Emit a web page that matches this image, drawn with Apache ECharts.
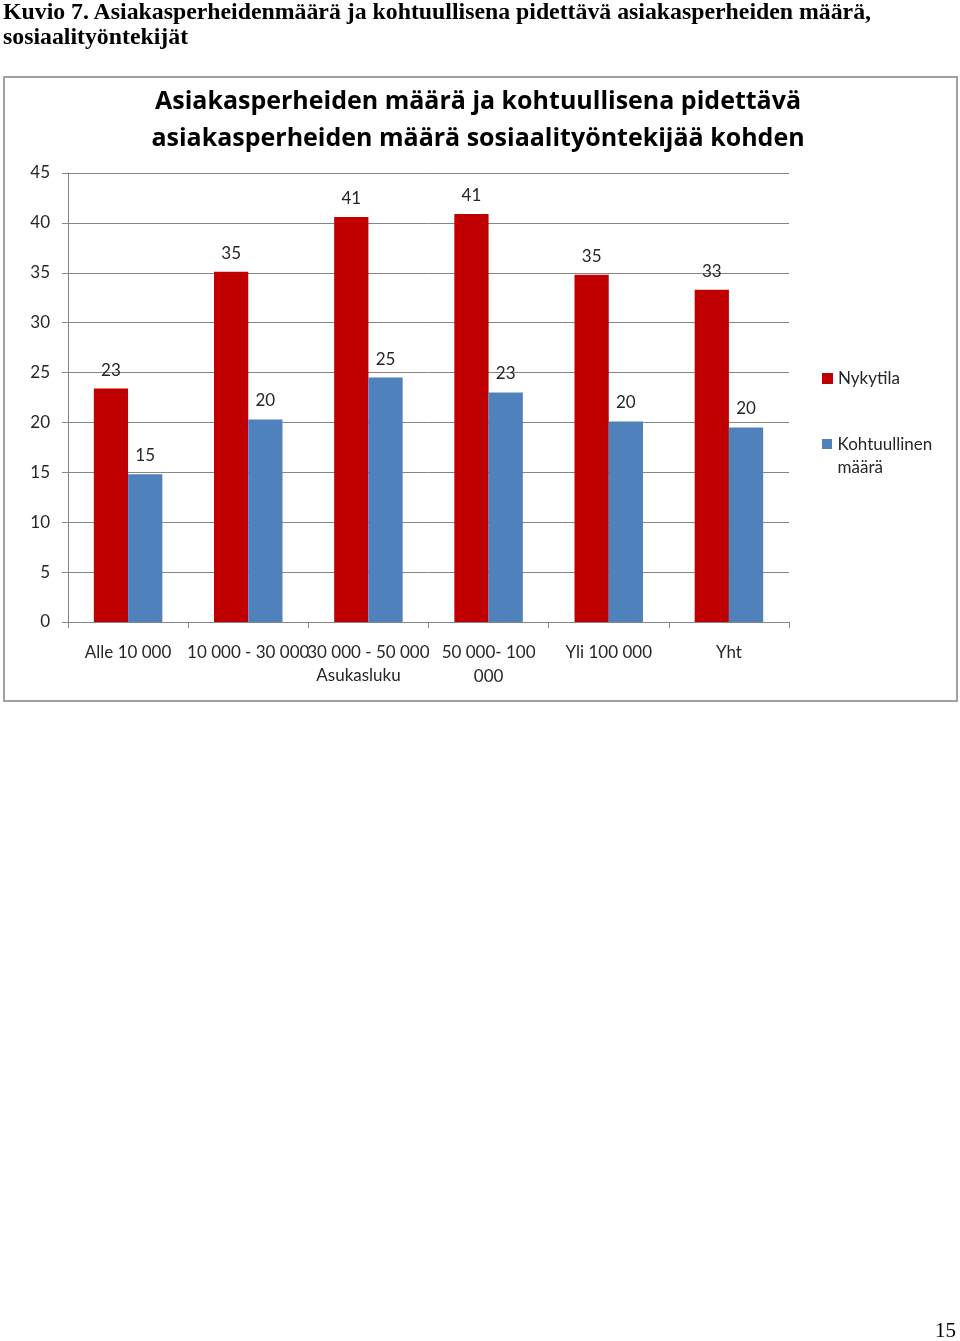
<!DOCTYPE html>
<html><head><meta charset="utf-8">
<script src="https://cdn.jsdelivr.net/npm/echarts@6/dist/echarts.min.js"></script>
<style>
html,body{margin:0;padding:0;background:#fff;}
#page{position:relative;width:960px;height:1341px;overflow:hidden;}
#chart{position:absolute;left:0;top:0;width:960px;height:1341px;}
#head{position:absolute;left:3px;top:-1px;font-family:"Liberation Serif",serif;font-weight:bold;font-size:23.8px;line-height:25px;color:#000;white-space:nowrap;}
#pnum{position:absolute;left:935px;top:1318px;font-family:"Liberation Serif",serif;font-size:21px;color:#000;}
</style></head>
<body><div id="page">
<div id="chart"></div>
<div id="head">Kuvio 7. Asiakasperheidenmäärä ja kohtuullisena pidettävä asiakasperheiden määrä,<br>sosiaalityöntekijät</div>
<div id="pnum">15</div>
</div>
<script>
const chartTitle = "Asiakasperheiden määrä ja kohtuullisena pidettävä\nasiakasperheiden määrä sosiaalityöntekijää kohden";
const categories = ["Alle 10 000", "10 000 - 30 000", "30 000 - 50 000", "50 000- 100\n000", "Yli 100 000", "Yht"];
const axisTitle = "Asukasluku";
const seriesNames = ["Nykytila", "Kohtuullinen määrä"];
const nykytila = [23.4, 35.1, 40.6, 40.9, 34.8, 33.3];
const kohtuullinen = [14.8, 20.3, 24.5, 23.0, 20.1, 19.5];
const yTicks = {min: 0, max: 45, interval: 5};

const font = "Lato, 'Open Sans', sans-serif";
const fs = 17;
const txt = '#262626';
const chart = echarts.init(document.getElementById('chart'), null, {renderer: 'canvas'});
const lbl = {show: true, position: 'top', distance: 10, color: txt, fontSize: fs, fontFamily: font,
  formatter: p => Math.round(p.value)};
chart.setOption({
  animation: false,
  title: {text: chartTitle, left: 478, textAlign: 'center', top: 83, padding: 0,
    textStyle: {fontFamily: "'Open Sans', sans-serif", fontWeight: 'bold', fontSize: 25, lineHeight: 37, color: '#000'}},
  graphic: [{type: 'rect', shape: {x: 4, y: 77, width: 953, height: 624},
    style: {fill: null, stroke: '#a0a0a0', lineWidth: 2}, silent: true}],
  legend: [
    {data: [seriesNames[0]], orient: 'vertical', left: 822, top: 370, padding: 0, itemWidth: 11, itemHeight: 11,
      icon: 'rect', textStyle: {fontFamily: font, fontSize: fs, color: txt}},
    {data: [seriesNames[1]], orient: 'vertical', left: 822, top: 433, padding: 0, itemWidth: 11, itemHeight: 34,
      icon: 'path://M0,0h10v10h-10zM0,33.9h0.01v0.01h-0.01z',
      formatter: () => 'Kohtuullinen\nmäärä',
      textStyle: {fontFamily: font, fontSize: fs, lineHeight: 23, color: txt}}
  ],
  grid: {left: 68, right: 171, top: 173, bottom: 719, containLabel: false},
  xAxis: {type: 'category', data: categories,
    name: axisTitle, nameLocation: 'middle', nameGap: 45, nameMoveOverlap: false,
    nameTextStyle: {fontFamily: font, fontSize: fs, color: txt, padding: [0, 140, 0, 0]},
    axisLine: {lineStyle: {color: '#868686'}},
    axisTick: {show: true, alignWithLabel: false, length: 6, lineStyle: {color: '#868686'}},
    axisLabel: {interval: 0, margin: 19, fontFamily: font, fontSize: fs, color: txt, lineHeight: 24}},
  yAxis: {type: 'value', min: yTicks.min, max: yTicks.max, interval: yTicks.interval,
    axisLine: {show: true, lineStyle: {color: '#868686'}},
    axisTick: {show: true, length: 6, lineStyle: {color: '#868686'}},
    splitLine: {lineStyle: {color: '#868686'}},
    axisLabel: {margin: 18, fontFamily: font, fontSize: fs, color: txt}},
  series: [
    {name: seriesNames[0], type: 'bar', data: nykytila, barGap: '0%', barCategoryGap: '43%',
      itemStyle: {color: '#C00000'}, label: lbl},
    {name: seriesNames[1], type: 'bar', data: kohtuullinen, barGap: '0%', barCategoryGap: '43%',
      itemStyle: {color: '#4F81BD'}, label: lbl}
  ]
});
</script>
</body></html>
